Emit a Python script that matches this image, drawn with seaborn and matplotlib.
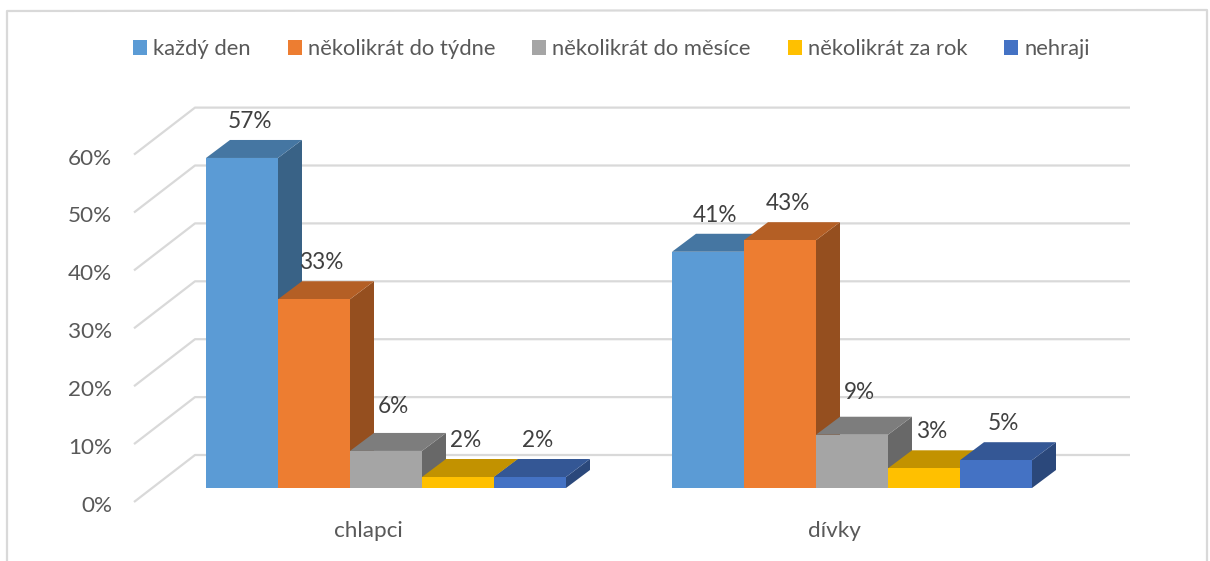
import matplotlib
matplotlib.use("Agg")
import matplotlib.pyplot as plt
from matplotlib.lines import Line2D
from matplotlib.patches import Polygon
from matplotlib.transforms import ScaledTranslation
from matplotlib.colors import to_rgb
import pandas as pd
import seaborn as sns

groups = ["chlapci", "dívky"]
frequency = ["každý den", "několikrát do týdne", "několikrát do měsíce", "několikrát za rok", "nehraji"]
values_boys = [57, 32.6, 6.4, 1.9, 1.9]
values_girls = [40.8, 42.8, 9.2, 3.4, 4.8]
colors = ["#5B9BD5", "#ED7D31", "#A5A5A5", "#FFC000", "#4472C4"]
ticks = [0, 10, 20, 30, 40, 50, 60]

W, H = 1210, 561
PX_X = 466.0     # pixels per category step
PX_Y = 5.79      # pixels per percent
X0 = 386.0       # pixel of the first category
BASE = 488       # pixel of the zero line of the bars
LEFT, RIGHT = 134, 1130

sns.set_theme(style="white")
plt.rcParams["font.family"] = ["Lato", "DejaVu Sans"]

fig = plt.figure(figsize=(W / 100, H / 100), dpi=100, facecolor="white")
ax = fig.add_axes([LEFT / W, (H - BASE) / H, (RIGHT - LEFT) / W, 60 * PX_Y / H])
ax.patch.set_alpha(0)

df = pd.DataFrame({
    "group": [g for g in groups for _ in frequency],
    "freq": frequency * 2,
    "value": values_boys + values_girls,
})
sns.barplot(data=df, x="group", y="value", hue="freq", order=groups, hue_order=frequency,
            palette=colors, saturation=1, width=360 / PX_X, gap=0, dodge=True,
            linewidth=0, ax=ax, legend=True, zorder=3)
ax.set_xlim((LEFT - X0) / PX_X, (RIGHT - X0) / PX_X)
ax.set_ylim(0, 60)
ax.set_xlabel("")
ax.set_ylabel("")
sns.despine(ax=ax, left=True, bottom=True)

def shade(c, f):
    return tuple(v * f for v in to_rgb(c))

# bar depth
dx, dy = 24 / PX_X, 18 / PX_Y
# floor/wall grid
front_x, back_x = (LEFT - X0) / PX_X, (195 - X0) / PX_X
for t in ticks:
    ax.plot([front_x, back_x, (RIGHT - X0) / PX_X],
            [t - 14 / PX_Y, t + 33 / PX_Y, t + 33 / PX_Y],
            color="#D9D9D9", lw=1.6, clip_on=False, zorder=1, solid_capstyle="butt")

lift = {"6%": 44.5, "9%": 42.5}
for i, cont in enumerate(ax.containers):
    base_c = colors[i]
    for bar in cont:
        x0, w, h = bar.get_x(), bar.get_width(), bar.get_height()
        x1 = x0 + w
        z = 3 + 2 * i
        bar.set_zorder(z + 1)
        ax.add_patch(Polygon([(x1, 0), (x1 + dx, dy), (x1 + dx, h + dy), (x1, h)],
                             closed=True, fc=shade(base_c, 0.63), ec="none", clip_on=False, zorder=z))
        ax.add_patch(Polygon([(x0, h), (x1, h), (x1 + dx, h + dy), (x0 + dx, h + dy)],
                             closed=True, fc=shade(base_c, 0.76), ec="none", clip_on=False, zorder=z))
        bar.set_clip_on(False)
        label = f"{round(h)}%"
        ax.annotate(label, (x0 + w / 2, h), xytext=(7.5, lift.get(label, 36.5)),
                    textcoords="offset pixels", ha="center", va="center",
                    fontsize=16.3, color="#404040", zorder=30, annotation_clip=False)

# tick labels
ax.set_yticks(ticks)
ax.set_yticklabels([f"{t}%" for t in ticks])
ax.set_xticks(range(len(groups)))
ax.set_xticklabels(groups)
ax.tick_params(axis="y", length=0, pad=22 * 0.72, labelsize=16.2, labelcolor="#595959")
ax.tick_params(axis="x", length=0, pad=33 * 0.72, labelsize=16.2, labelcolor="#595959")
for lab in ax.get_yticklabels():
    lab.set_transform(lab.get_transform() + ScaledTranslation(0, -16 / 100, fig.dpi_scale_trans))
for lab in ax.get_xticklabels():
    lab.set_transform(lab.get_transform() + ScaledTranslation(-18 / 100, 0, fig.dpi_scale_trans))

# legend
handles, labels = ax.get_legend_handles_labels()
fs = 15.85
em = fs * 100 / 72
leg = fig.legend(handles, labels, ncols=5, frameon=False, fontsize=fs,
                 loc="center left", bbox_to_anchor=(133 / W, 1 - 49 / H),
                 bbox_transform=fig.transFigure, borderaxespad=0, borderpad=0,
                 handlelength=14 / em, handleheight=14 / em, handletextpad=6 / em,
                 columnspacing=37 / em, labelcolor="#595959")
ax.get_legend().remove() if ax.get_legend() else None

# chart frame
fig.add_artist(Line2D([7 / W, 7 / W, 1207 / W, 1207 / W],
                      [0, 1 - 11 / H, 1 - 10 / H, 0],
                      transform=fig.transFigure, color="#D9D9D9", lw=1.6))

fig.savefig("out.png", dpi=100)
